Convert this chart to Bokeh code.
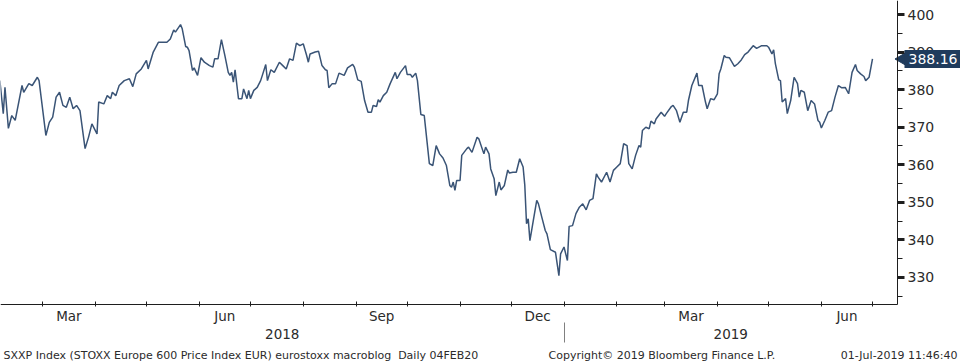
import math
import pandas as pd
from bokeh.plotting import figure
from bokeh.models import (Range1d, DatetimeAxis, FixedTicker, SingleIntervalTicker,
                          DatetimeTickFormatter, Label, ColumnDataSource)
from bokeh.embed import file_html
from bokeh.resources import INLINE

# ---------------- data ----------------
START_DATE = "2018-02-04"
days_since_start = [
    0, 2, 3, 5, 7, 9, 13, 14, 17, 19, 22, 23, 27, 29, 31, 33, 35, 37, 39, 41,
    43, 45, 47, 50, 52, 54, 57, 58, 61, 63, 65, 66, 68, 70, 73, 76, 78, 80, 83, 86,
    87, 90, 93, 98, 100, 102, 103, 106, 107, 109, 110, 111, 113, 114, 116, 118, 120, 123, 125, 126,
    128, 130, 132, 134, 135, 136, 137, 138, 140, 142, 143, 145, 146, 147, 149, 151, 153, 154, 156, 157,
    159, 161, 164, 166, 168, 170, 172, 174, 176, 178, 180, 181, 182, 185, 187, 189, 191, 192, 193, 195,
    197, 199, 202, 204, 207, 208, 210, 212, 214, 216, 218, 219, 221, 222, 223, 225, 227, 229, 232, 233,
    235, 238, 239, 241, 242, 244, 245, 247, 249, 252, 254, 256, 258, 260, 262, 264, 265, 266, 267, 268,
    270, 271, 274, 275, 277, 280, 281, 284, 285, 287, 288, 290, 291, 293, 294, 296, 298, 299, 301, 303,
    305, 307, 308, 309, 310, 311, 313, 315, 316, 318, 320, 321, 323, 326, 328, 329, 331, 333, 334, 336,
    338, 340, 342, 344, 346, 348, 350, 351, 353, 356, 358, 360, 362, 364, 366, 368, 369, 371, 373, 375,
    376, 377, 379, 381, 382, 384, 385, 388, 390, 391, 394, 395, 397, 399, 401, 403, 404, 406, 409, 410,
    412, 414, 415, 417, 419, 421, 422, 423, 425, 426, 428, 431, 433, 435, 437, 439, 442, 444, 447, 450,
    451, 453, 454, 455, 457, 458, 459, 461, 462, 464, 465, 466, 468, 469, 470, 472, 474, 476, 478, 480,
    481, 482, 484, 486, 488, 490, 492, 494, 496, 498, 500, 502, 503, 505, 507, 508, 510, 512,
]
sxxp_close = [
    382.4, 373.6, 380.6, 369.7, 373.1, 371.8, 381.1, 379.3, 381.6, 381.1, 383.3, 382.4, 367.8, 371.3, 372.7, 378.0, 379.3, 375.8, 375.3, 378.0,
    374.9, 375.8, 374.4, 364.3, 367.3, 370.9, 368.2, 376.7, 376.2, 378.4, 377.6, 379.3, 378.4, 381.1, 382.4, 382.9, 380.8, 384.2, 385.5, 387.8,
    385.5, 390.0, 392.6, 392.6, 393.5, 395.9, 395.3, 397.3, 396.2, 391.5, 391.3, 390.4, 385.1, 385.8, 383.8, 388.5, 387.3, 386.4, 386.0, 388.2,
    388.2, 393.3, 389.1, 384.6, 383.8, 384.6, 382.0, 385.3, 377.6, 377.6, 380.2, 377.6, 379.8, 377.6, 379.8, 380.6, 382.4, 383.8, 386.7, 382.4,
    385.3, 384.6, 387.3, 386.4, 385.5, 388.2, 387.8, 392.4, 391.7, 392.2, 389.1, 387.3, 389.5, 390.0, 390.2, 386.4, 385.3, 385.1, 380.5, 381.6,
    381.6, 384.4, 383.8, 385.8, 386.7, 386.0, 382.6, 382.2, 377.1, 374.0, 374.0, 375.8, 375.5, 377.3, 376.7, 378.4, 379.3, 381.6, 384.6, 382.9,
    384.6, 386.4, 384.0, 384.0, 383.3, 384.4, 382.4, 373.4, 373.1, 360.3, 359.8, 365.1, 362.9, 361.8, 359.8, 354.5, 354.0, 355.4, 353.2, 355.8,
    355.8, 362.5, 364.3, 364.7, 363.3, 367.3, 366.9, 362.9, 364.7, 362.9, 358.9, 356.3, 351.8, 355.4, 353.3, 354.5, 358.6, 357.8, 358.0, 358.0,
    361.6, 359.4, 354.5, 344.3, 345.6, 339.8, 345.2, 350.5, 349.6, 346.0, 342.5, 341.6, 337.4, 336.7, 330.5, 336.3, 338.1, 334.5, 343.6, 343.8,
    347.0, 348.7, 349.6, 348.0, 350.5, 351.0, 357.6, 356.7, 355.4, 358.0, 355.4, 358.5, 359.4, 360.3, 365.6, 365.1, 360.3, 358.9, 362.5, 365.1,
    364.7, 369.1, 370.0, 369.6, 371.6, 370.9, 372.2, 374.0, 372.9, 373.6, 375.5, 375.8, 374.4, 371.3, 374.0, 374.0, 377.1, 381.1, 384.4, 381.1,
    381.1, 376.7, 374.9, 377.6, 377.3, 378.9, 384.2, 385.5, 389.1, 388.6, 388.5, 386.2, 386.9, 387.9, 389.3, 390.0, 391.7, 391.0, 391.7, 391.7,
    391.3, 389.5, 390.6, 386.9, 382.6, 382.4, 376.7, 377.6, 373.6, 377.1, 380.2, 383.3, 381.6, 378.0, 379.8, 379.3, 374.4, 377.1, 376.2, 371.8,
    371.3, 369.8, 371.8, 374.0, 374.4, 378.0, 381.1, 380.5, 380.6, 378.9, 384.6, 386.7, 385.1, 384.2, 383.5, 382.4, 383.3, 388.16,
]
LAST_VALUE = "388.16"
label_months = [3, 6, 9, 12]          # quarterly month labels (Mar, Jun, Sep, Dec)
x_view = ("2018-02-04 09:00", "2019-07-15 16:00")   # date span of the plotting area
y_view = (322.8, 403.73)                             # value span of the plotting area
footer_left = "SXXP Index (STOXX Europe 600 Price Index EUR) eurostoxx macroblog\u00a0 Daily 04FEB20"
footer_mid = "Copyright\u00a9 2019 Bloomberg Finance L.P."
footer_right = "01-Jul-2019 11:46:40"

# ---------------- layout / style ----------------
W, H = 960, 363
PLOT_W, PLOT_H = 897, 304        # plotting area inside the canvas (axes sit at its right / bottom)
FONT = "DejaVu Sans"
LINE_COLOR = "#3a5476"
TEXT_COLOR = "#2b2b2b"
AXIS_COLOR = "#1e1e1e"
BOX_COLOR = "#1f3b5c"


def ms(ts):
    return pd.Timestamp(ts).value / 1e6


dates = pd.to_datetime(START_DATE) + pd.to_timedelta(days_since_start, unit="D")
src = ColumnDataSource(dict(date=dates, close=sxxp_close))

x0, x1 = pd.Timestamp(x_view[0]), pd.Timestamp(x_view[1])
ms_per_px = (ms(x1) - ms(x0)) / PLOT_W
val_per_px = (y_view[1] - y_view[0]) / PLOT_H
y_top = y_view[1]


def y_at(px):  # value shown at a given pixel row of the canvas
    return y_top - px * val_per_px


p = figure(width=W, height=H, x_axis_type="datetime", y_axis_location="right",
           output_backend="svg", toolbar_location=None,
           x_range=Range1d(ms(x0), ms(x0) + W * ms_per_px), y_range=Range1d(y_at(H), y_top),
           min_border_left=0, min_border_top=0, min_border_right=0, min_border_bottom=0)
p.outline_line_color = None
p.background_fill_color = "white"
p.border_fill_color = "white"
p.xgrid.visible = False
p.ygrid.visible = False

p.line("date", "close", source=src, line_color=LINE_COLOR, line_width=1.5)


def fmt(f):
    return DatetimeTickFormatter(microseconds=f, milliseconds=f, seconds=f, minsec=f,
                                 minutes=f, hourmin=f, hours=f, days=f, months=f, years=f)


def style_labels(ax, size="13.5px"):
    ax.major_label_text_font = FONT
    ax.major_label_text_font_size = size
    ax.major_label_text_color = TEXT_COLOR


# ---- month axis: ticks at month starts, labels at mid-month of quarter months
all_starts = pd.date_range("2018-01-01", "2019-09-01", freq="MS")
month_starts = [m for m in all_starts if x0 <= m <= x1]
mid_months = []
for i in range(len(all_starts) - 1):
    a, b = all_starts[i], all_starts[i + 1]
    if a.month in label_months and x0 <= a + (b - a) / 2 <= x1:
        mid_months.append(a + (b - a) / 2)

xa = p.xaxis[0]
xa.fixed_location = y_view[0]
xa.bounds = (ms(x0), ms(x1))
xa.ticker = FixedTicker(ticks=[ms(t) for t in mid_months],
                        minor_ticks=[ms(t) for t in month_starts])
xa.formatter = fmt("%b")
xa.axis_line_color = AXIS_COLOR
xa.major_tick_line_color = None
xa.major_tick_in = 0
xa.major_tick_out = 0
xa.minor_tick_line_color = AXIS_COLOR
xa.minor_tick_in = 3
xa.minor_tick_out = 2
xa.major_label_standoff = 1
style_labels(xa)

# ---- year axis: labels centred on the visible part of each year
year_mid, year_starts = [], []
for yr in sorted(set(dates.year)):
    ys, ye = pd.Timestamp(f"{yr}-01-01"), pd.Timestamp(f"{yr + 1}-01-01")
    a, b = max(ys, x0), min(ye, x1)
    year_mid.append(a + (b - a) / 2)
    if ys > x0:
        year_starts.append(ys)

ya = DatetimeAxis(ticker=FixedTicker(ticks=[ms(t) for t in year_mid]), formatter=fmt("%Y"),
                  fixed_location=y_view[0], bounds=(ms(x0), ms(x1)))
ya.axis_line_color = None
ya.major_tick_line_color = None
ya.minor_tick_line_color = None
ya.major_tick_in = ya.major_tick_out = 0
ya.minor_tick_in = ya.minor_tick_out = 0
ya.major_label_standoff = 24
style_labels(ya)
p.add_layout(ya, "below")

# ---- year divider (tick pointing up from the row under the year labels)
yd = DatetimeAxis(ticker=FixedTicker(ticks=[ms(t) for t in year_starts]), formatter=fmt("%Y"),
                  fixed_location=y_at(342), bounds=(ms(x0), ms(x1)))
yd.axis_line_color = None
yd.major_tick_line_color = "#808080"
yd.major_tick_in = 20
yd.major_tick_out = 0
yd.minor_tick_line_color = None
yd.major_label_text_color = None
p.add_layout(yd, "below")

# ---- right value axis
ra = p.yaxis[0]
ra.fixed_location = ms(x1)
ra.bounds = y_view
ra.ticker = SingleIntervalTicker(interval=10, num_minor_ticks=2)
ra.axis_line_color = AXIS_COLOR
ra.major_tick_line_color = AXIS_COLOR
ra.major_tick_line_width = 3
ra.major_tick_in = 0
ra.major_tick_out = 7
ra.minor_tick_line_color = AXIS_COLOR
ra.minor_tick_in = 0
ra.minor_tick_out = 5
ra.major_label_standoff = 3
style_labels(ra, "14px")

# ---- last value tag
last = float(LAST_VALUE)
p.scatter(x=[ms(x1) + 5 * ms_per_px], y=[last], marker="triangle", angle=math.pi / 2,
          size=13, fill_color=BOX_COLOR, line_color=BOX_COLOR)
p.add_layout(Label(x=PLOT_W + 7, y=last, x_units="screen", y_units="data", text=LAST_VALUE,
                   text_font=FONT, text_font_size="14px", text_color="white",
                   text_baseline="middle", text_align="left",
                   background_fill_color=BOX_COLOR, padding=4))

# ---- footer
for txt, xx, al in [(footer_left, 3, "left"), (footer_mid, 548, "left"), (footer_right, 957, "right")]:
    p.add_layout(Label(x=xx, y=8, x_units="screen", y_units="screen", text=txt,
                       text_font=FONT, text_font_size="11px", text_color=TEXT_COLOR,
                       text_baseline="middle", text_align=al))

open("out.html", "w").write(file_html(p, INLINE))
